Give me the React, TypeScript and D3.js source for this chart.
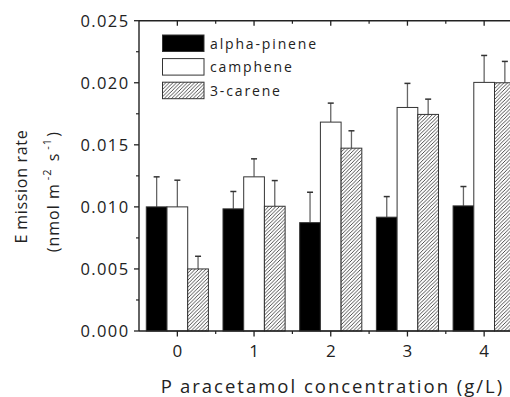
import React from "react";
import * as d3 from "d3";

// concentration categories (g/L)
const categories = ["0", "1", "2", "3", "4"];
const seriesNames = ["alpha-pinene", "camphene", "3-carene"];

// emission rates (nmol m-2 s-1)
const alphaPinene = [0.01, 0.00984, 0.00873, 0.00917, 0.01008];
const camphene = [0.01, 0.01242, 0.01683, 0.01801, 0.02003];
const carene = [0.005, 0.01005, 0.01473, 0.01745, 0.02];

// upper error bars (value + sd)
const alphaPineneErr = [0.01242, 0.01124, 0.01118, 0.01083, 0.01164];
const campheneErr = [0.01215, 0.01387, 0.01836, 0.01995, 0.0222];
const careneErr = [0.00602, 0.01212, 0.01613, 0.01868, 0.02172];

const yTicks = [0, 0.005, 0.01, 0.015, 0.02, 0.025];

const W = 510;
const H = 397;
const margin = { left: 139, top: 20.7, bottom: 331, right: 522.5 };
const FONT = "'Open Sans', 'DejaVu Sans', sans-serif";

const fills = ["#000", "#fff", "url(#hatch)"];

export default function App() {
  const x = d3
    .scaleBand()
    .domain(categories)
    .range([margin.left, margin.right])
    .paddingInner(0.19)
    .paddingOuter(0.095);
  const xs = d3
    .scaleBand()
    .domain(seriesNames)
    .range([0, x.bandwidth()]);
  const y = d3.scaleLinear().domain([0, 0.025]).range([margin.bottom, margin.top]);

  const values = [alphaPinene, camphene, carene];
  const errs = [alphaPineneErr, campheneErr, careneErr];
  const step = x.step();

  const minorY = yTicks.slice(0, -1).map(t => t + 0.0025);
  const centers = categories.map(c => x(c) + x.bandwidth() / 2);
  const minorX = categories.map((c, i) => centers[i] + step / 2);

  const axisColor = "#222";

  return (
    <div style={{ position: "absolute", left: 0, top: 0 }}>
      <svg width={W} height={H} style={{ display: "block", background: "#fff" }}>
        <defs>
          <pattern id="hatch" patternUnits="userSpaceOnUse" width="3.6" height="3.6">
            <rect width="3.6" height="3.6" fill="#fff" />
            <path
              d="M0,3.6 L3.6,0 M-0.9,0.9 L0.9,-0.9 M2.7,4.5 L4.5,2.7"
              stroke="#222"
              strokeWidth="0.8"
            />
          </pattern>
        </defs>

        {/* bars */}
        {values.map((vals, s) =>
          vals.map((v, i) => {
            const bx = x(categories[i]) + xs(seriesNames[s]);
            const bw = xs.bandwidth();
            const cx = bx + bw / 2;
            return (
              <g key={`b-${s}-${i}`}>
                <line x1={cx} x2={cx} y1={y(v)} y2={y(errs[s][i])} stroke="#666" strokeWidth="1.3" />
                <line x1={cx - 3} x2={cx + 3} y1={y(errs[s][i])} y2={y(errs[s][i])} stroke="#333" strokeWidth="1.5" />
                <rect
                  x={bx}
                  y={y(v)}
                  width={bw}
                  height={y(0) - y(v)}
                  fill={fills[s]}
                  stroke="#333"
                  strokeWidth="1"
                />
              </g>
            );
          })
        )}

        {/* axes frame */}
        <line x1={margin.left} x2={W + 20} y1={margin.bottom} y2={margin.bottom} stroke={axisColor} strokeWidth="1.4" />
        <line x1={margin.left} x2={W + 20} y1={margin.top} y2={margin.top} stroke={axisColor} strokeWidth="1.4" />
        <line x1={margin.left} x2={margin.left} y1={margin.top} y2={margin.bottom} stroke={axisColor} strokeWidth="1.4" />

        {/* y ticks */}
        {yTicks.map(t => (
          <g key={`yt-${t}`}>
            <line x1={margin.left - 5} x2={margin.left} y1={y(t)} y2={y(t)} stroke={axisColor} strokeWidth="1.3" />
            <text
              x={129.5}
              y={y(t)}
              dy="0.36em"
              textAnchor="end"
              fontFamily={FONT}
              fontSize="16.5"
              letterSpacing="1.4"
              fill="#222"
            >
              {t.toFixed(3)}
            </text>
          </g>
        ))}
        {minorY.map(t => (
          <line key={`ym-${t}`} x1={margin.left - 3} x2={margin.left} y1={y(t)} y2={y(t)} stroke={axisColor} strokeWidth="1.2" />
        ))}

        {/* x ticks, bottom and top */}
        {categories.map((c, i) => (
          <g key={`xt-${c}`}>
            <line x1={centers[i]} x2={centers[i]} y1={margin.bottom} y2={margin.bottom + 5.5} stroke={axisColor} strokeWidth="1.3" />
            <line x1={centers[i]} x2={centers[i]} y1={margin.top} y2={margin.top + 5} stroke={axisColor} strokeWidth="1.3" />
            <text x={centers[i]} y={357} textAnchor="middle" fontFamily={FONT} fontSize="17" fill="#222">
              {c}
            </text>
          </g>
        ))}
        {minorX.map(m => (
          <g key={`xm-${m}`}>
            <line x1={m} x2={m} y1={margin.bottom} y2={margin.bottom + 3} stroke={axisColor} strokeWidth="1.2" />
            <line x1={m} x2={m} y1={margin.top} y2={margin.top + 3} stroke={axisColor} strokeWidth="1.2" />
          </g>
        ))}

        {/* legend */}
        {seriesNames.map((n, s) => {
          const ly = 35 + s * 23.6;
          return (
            <g key={`lg-${n}`}>
              <rect x={162.5} y={ly} width={41.5} height={16.5} fill={fills[s]} stroke="#333" strokeWidth="1" />
              <text x={210} y={ly + 8.5} dy="0.36em" fontFamily={FONT} fontSize="14" letterSpacing="1.85" fill="#222">
                {n}
              </text>
            </g>
          );
        })}

        {/* axis titles */}
        <text x={332.5} y={393} textAnchor="middle" fontFamily={FONT} fontSize="18.5" letterSpacing="2" fill="#222">
          <tspan>P</tspan>
          <tspan dx="6">aracetamol concentration (g/L)</tspan>
        </text>
        <g transform="translate(27,186.5) rotate(-90)">
          <text textAnchor="middle" fontFamily={FONT} fontSize="16" letterSpacing="0.7" fill="#222">
            <tspan>E</tspan>
            <tspan dx="4">mission rate</tspan>
          </text>
        </g>
        <g transform="translate(59,191.7) rotate(-90)">
          <text textAnchor="middle" fontFamily={FONT} fontSize="16" letterSpacing="1" fill="#222">
            <tspan>(nmol m</tspan>
            <tspan dx="3" dy="-8" fontSize="11">-2</tspan>
            <tspan dx="2" dy="8"> s</tspan>
            <tspan dx="3" dy="-8" fontSize="11">-1</tspan>
            <tspan dx="1" dy="8">)</tspan>
          </text>
        </g>
      </svg>
    </div>
  );
}
